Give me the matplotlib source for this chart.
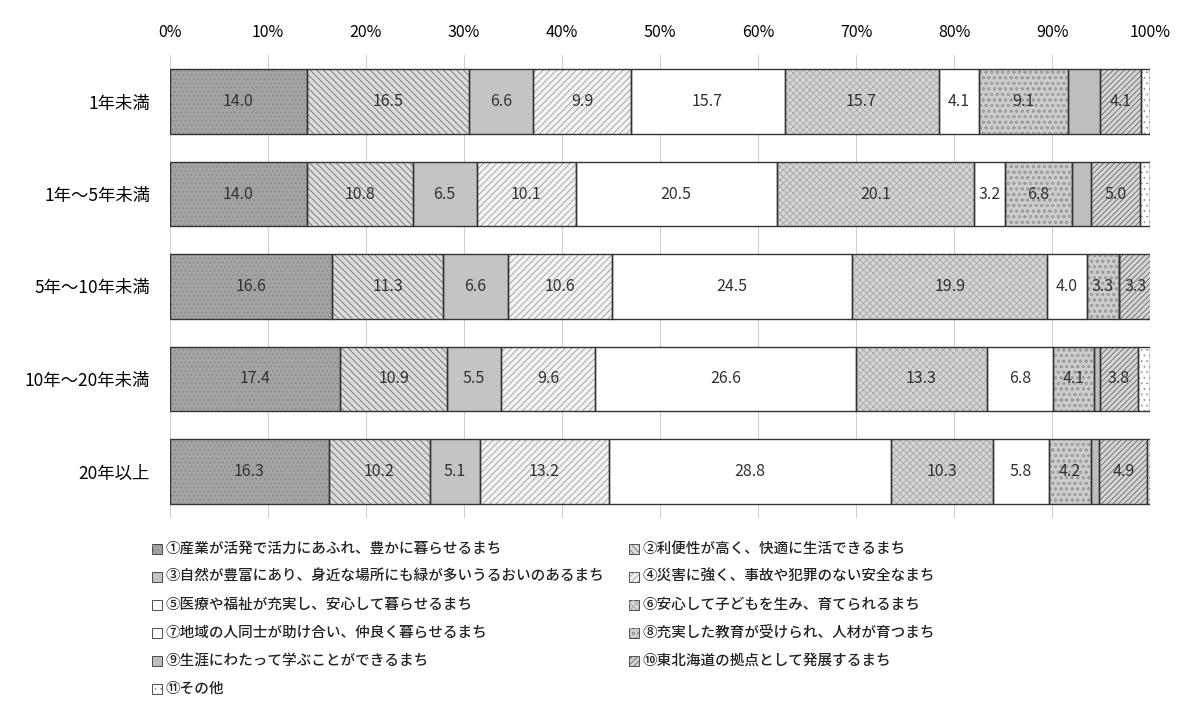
import matplotlib.pyplot as plt
from matplotlib.patches import Rectangle
import numpy as np

plt.rcParams['font.family'] = ['Noto Sans CJK JP', 'DejaVu Sans']
plt.rcParams['hatch.linewidth'] = 0.6

# ---- data ----
categories = ['1年未満', '1年～5年未満', '5年～10年未満', '10年～20年未満', '20年以上']

labels = [
    '①産業が活発で活力にあふれ、豊かに暮らせるまち',
    '②利便性が高く、快適に生活できるまち',
    '③自然が豊富にあり、身近な場所にも緑が多いうるおいのあるまち',
    '④災害に強く、事故や犯罪のない安全なまち',
    '⑤医療や福祉が充実し、安心して暮らせるまち',
    '⑥安心して子どもを生み、育てられるまち',
    '⑦地域の人同士が助け合い、仲良く暮らせるまち',
    '⑧充実した教育が受けられ、人材が育つまち',
    '⑨生涯にわたって学ぶことができるまち',
    '⑩東北海道の拠点として発展するまち',
    '⑪その他',
]

# one list per answer, values per category (%)
v01 = [14.0, 14.0, 16.6, 17.4, 16.3]
v02 = [16.5, 10.8, 11.3, 10.9, 10.2]
v03 = [6.6, 6.5, 6.6, 5.5, 5.1]
v04 = [9.9, 10.1, 10.6, 9.6, 13.2]
v05 = [15.7, 20.5, 24.5, 26.6, 28.8]
v06 = [15.7, 20.1, 19.9, 13.3, 10.3]
v07 = [4.1, 3.2, 4.0, 6.8, 5.8]
v08 = [9.1, 6.8, 3.3, 4.1, 4.2]
v09 = [3.3, 1.9, 0.0, 0.7, 0.9]
v10 = [4.1, 5.0, 3.3, 3.8, 4.9]
v11 = [1.0, 1.1, 0.0, 1.3, 0.3]
series = [v01, v02, v03, v04, v05, v06, v07, v08, v09, v10, v11]

# ---- styles ----
faces = ['#a3a3a3', '#dcdcdc', '#c4c4c4', '#f2f2f2', '#ffffff', '#d6d6d6',
         '#ffffff', '#cdcdcd', '#bdbdbd', '#d4d4d4', '#ffffff']
hatches = ['....', '\\\\\\\\\\', None, '/////', None, 'xxxxx',
           None, 'ooo', None, '//////', '...']
hcolors = ['#8a8a8a', '#707070', None, '#9a9a9a', None, '#a8a8a8',
           None, '#9c9c9c', None, '#6a6a6a', '#9a9a9a']
show_label = [True] * 8 + [False, True, False]

fig = plt.figure(figsize=(11.86, 7.18), dpi=100)
ax = fig.add_axes([0.143, 0.279, 0.827, 0.644])

y = np.arange(len(categories))
left = np.zeros(len(categories))
for i, vals in enumerate(series):
    vals = np.array(vals)
    ax.barh(y, vals, left=left, height=0.7, color=faces[i], linewidth=0, zorder=2)
    if hatches[i]:
        ax.barh(y, vals, left=left, height=0.7, fill=False, hatch=hatches[i],
                edgecolor=hcolors[i], linewidth=0, zorder=3)
    ax.barh(y, vals, left=left, height=0.7, fill=False, edgecolor='#333333',
            linewidth=1.0, zorder=4)
    if show_label[i]:
        for yy, l, v in zip(y, left, vals):
            if v > 0:
                ax.text(l + v / 2, yy, f'{v:.1f}', ha='center', va='center',
                        fontsize=11.5, color='#333333', zorder=5)
    left += vals

ax.set_xlim(0, 100)
ax.set_ylim(len(categories) - 0.5, -0.5)
ax.set_yticks(y)
ax.set_yticklabels(categories, fontsize=12.5)
ax.set_xticks(np.arange(0, 101, 10))
ax.set_xticklabels([f'{t}%' for t in range(0, 101, 10)], fontsize=11.5)
ax.xaxis.tick_top()
ax.tick_params(axis='y', length=0, pad=14)
ax.tick_params(axis='x', length=0, pad=10)
ax.grid(axis='x', color='#d0d0d0', linewidth=0.8, zorder=0)
for s in ax.spines.values():
    s.set_visible(False)

# ---- legend (two columns, row-major like the original) ----
x0 = [0.128, 0.530]
y0 = 1 - 549 / 718
dy = 28 / 718
sw, sh = 0.0085, 0.014
for k, lab in enumerate(labels):
    col, row = k % 2, k // 2
    xx = x0[col]
    yy = y0 - row * dy
    fig.patches.append(Rectangle((xx, yy - sh / 2), sw, sh, transform=fig.transFigure,
                                 facecolor=faces[k], edgecolor='#333333', linewidth=0.6))
    if hatches[k]:
        fig.patches.append(Rectangle((xx, yy - sh / 2), sw, sh, transform=fig.transFigure,
                                     fill=False, hatch=hatches[k], edgecolor=hcolors[k],
                                     linewidth=0))
    fig.text(xx + sw + 0.003, yy, lab, fontsize=10.5, va='center', ha='left',
             color='#222222', fontweight='medium')

fig.savefig('out.png', dpi=100)
